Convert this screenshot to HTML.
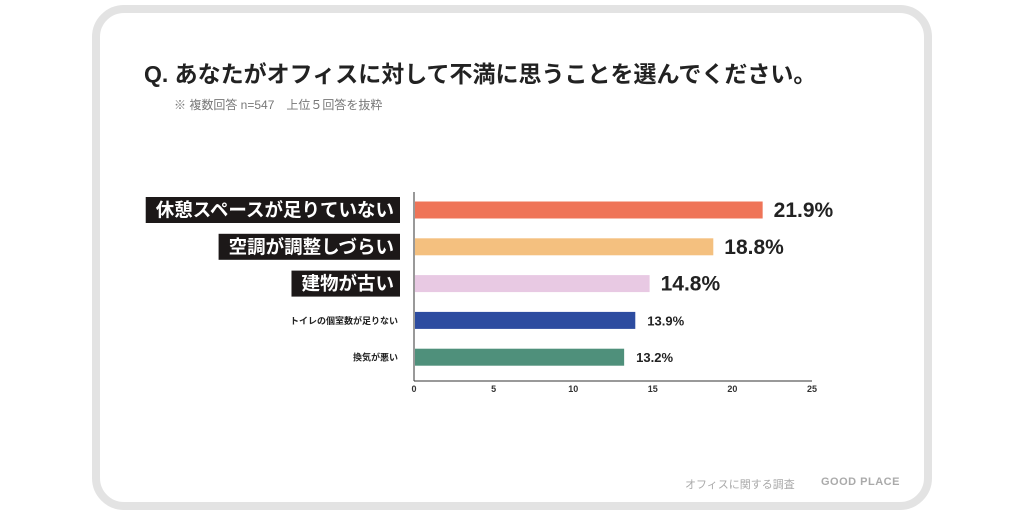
<!DOCTYPE html>
<html><head><meta charset="utf-8"><style>
body{margin:0;width:1024px;height:514px;background:#fff;overflow:hidden;font-family:"Liberation Sans","Noto Sans CJK JP",sans-serif;}
#card{position:absolute;left:92px;top:5px;width:824px;height:489px;border:8px solid #e3e3e3;border-radius:32px;background:#fff;}
.t{position:absolute;white-space:nowrap;}
</style></head><body>
<div id="card"></div>
<div class="t" style="left:144px;top:55px;font-size:23px;font-weight:bold;color:#222;">Q. あなたがオフィスに対して不満に思うことを選んでください。</div>
<div class="t" style="left:174px;top:96px;font-size:12px;color:#777;">※ 複数回答 n=547　上位５回答を抜粋</div>
<svg id="chart" width="1024" height="514" style="position:absolute;left:0;top:0"></svg>
<div class="t" style="left:685px;top:476px;font-size:11px;color:#aaa;">オフィスに関する調査</div>
<div class="t" style="left:821px;top:476px;font-size:11px;font-weight:bold;color:#aaa;letter-spacing:0.5px;">GOOD PLACE</div>
<script>
const categories=["休憩スペースが足りていない","空調が調整しづらい","建物が古い","トイレの個室数が足りない","換気が悪い"];
const values=[21.9,18.8,14.8,13.9,13.2];
const valueLabels=["21.9%","18.8%","14.8%","13.9%","13.2%"];
const ticks=[0,5,10,15,20,25];
const colors=["#ef7458","#f4c07f","#e8c9e3","#2d4ca0","#4f907b"];
const svg=document.getElementById('chart');const NS="http://www.w3.org/2000/svg";
const x0=414,x1=812,xmax=25;
const x=v=>x0+(x1-x0)*v/xmax;
const yc=i=>210+i*36.8;
function mk(t,a){const e=document.createElementNS(NS,t);for(const k in a)e.setAttribute(k,a[k]);svg.appendChild(e);return e;}
let e=mk('line',{x1:x0,y1:192,x2:x0,y2:381,stroke:'#333','stroke-width':1});

e=mk('line',{x1:x0,y1:381,x2:x1,y2:381,stroke:'#333','stroke-width':1});

ticks.forEach(t=>{const el=mk('text',{x:x(t),y:392,'font-size':9,'font-weight':'bold','text-anchor':'middle',fill:'#333'});el.textContent=t;
});
values.forEach((v,i)=>{
 const big=i<3;
 const b=mk('rect',{x:x0+1,y:yc(i)-8.5,width:x(v)-x0-1,height:17,fill:colors[i]});
 
 const vl=mk('text',{x:x(v)+(big?11:12),y:yc(i)+(big?7:5),'font-size':big?21:13,'font-weight':'bold',fill:'#222'});vl.textContent=valueLabels[i];
 
 if(big){
  const lt=mk('text',{x:394,y:yc(i)+6.5,'font-size':18.5,'font-weight':'bold','text-anchor':'end',fill:'#fff'});lt.textContent=categories[i];
  const w=lt.getComputedTextLength();
  const r=document.createElementNS(NS,'rect');
  r.setAttribute('x',394-w-10);r.setAttribute('y',yc(i)-13);r.setAttribute('width',w+16);r.setAttribute('height',26);r.setAttribute('fill','#1c1818');
  svg.insertBefore(r,lt);
  
  
 }else{
  const lt=mk('text',{x:398,y:yc(i)+3.5,'font-size':9,'font-weight':'bold','text-anchor':'end',fill:'#222'});lt.textContent=categories[i];
  
 }
});
</script>
</body></html>
